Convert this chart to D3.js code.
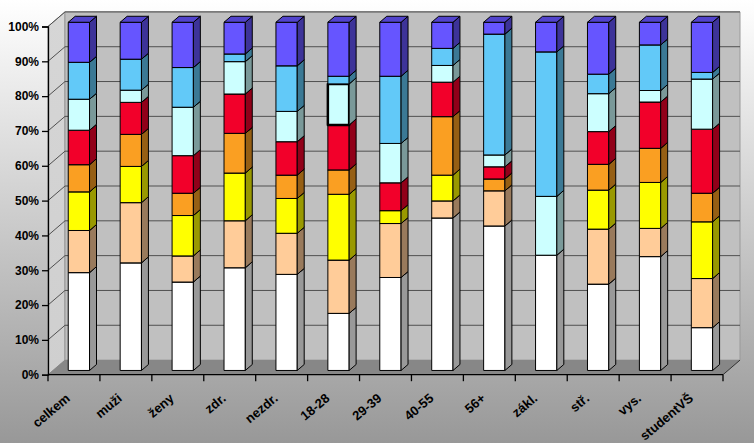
<!DOCTYPE html>
<html>
<head>
<meta charset="utf-8">
<script src="https://cdn.jsdelivr.net/npm/d3@7/dist/d3.min.js"></script>
<style>
  html, body { margin: 0; padding: 0; }
  svg { display: block; }
  text { font-family: "Liberation Sans", Arial, sans-serif; font-weight: bold; fill: #000; }
</style>
</head>
<body>
<svg id="chart" width="754" height="443"></svg>
<script>
// ---------- DATA ----------
const categories = ["celkem", "muži", "ženy", "zdr.", "nezdr.", "18-28", "29-39", "40-55", "56+", "zákl.", "stř.", "vys.", "studentVŠ"];
const seriesNames = ["s1", "s2", "s3", "s4", "s5", "s6", "s7", "s8"];
const s1 = [28.1, 30.9, 25.4, 29.5, 27.6, 16.4, 26.7, 43.8, 41.5, 33.1, 24.8, 32.7, 12.3];
const s2 = [12.1, 17.3, 7.5, 13.5, 11.8, 15.3, 15.5, 4.9, 10.1, 0, 15.8, 8.1, 14.1];
const s3 = [11.1, 10.4, 11.6, 13.7, 10.0, 18.9, 3.7, 7.4, 0, 0, 11.2, 13.2, 16.3];
const s4 = [7.8, 9.2, 6.4, 11.4, 6.7, 7.0, 0, 16.8, 3.4, 0, 7.4, 9.8, 8.2];
const s5 = [9.9, 9.2, 10.8, 11.3, 9.6, 12.9, 8.0, 9.9, 3.5, 0, 9.4, 13.3, 18.4];
const s6 = [8.9, 3.5, 13.9, 9.3, 8.7, 11.8, 11.3, 4.8, 3.4, 16.9, 10.9, 3.3, 14.4];
const s7 = [10.6, 8.9, 11.4, 2.2, 13.1, 2.2, 19.3, 4.9, 34.7, 41.5, 5.6, 13.1, 1.9];
const s8 = [11.5, 10.6, 13.0, 9.1, 12.5, 15.5, 15.5, 7.5, 3.4, 8.5, 14.9, 6.5, 14.4];
const yTicks = [0, 0.1, 0.2, 0.3, 0.4, 0.5, 0.6, 0.7, 0.8, 0.9, 1.0];
const colors = ["#FFFFFF", "#FFCC99", "#FFFF00", "#FA9F22", "#F2002A", "#CCFFFF", "#62C9F8", "#6655FF"];

// ---------- BUILD ----------
const seriesValues = [s1, s2, s3, s4, s5, s6, s7, s8];
const table = categories.map((c, i) => {
  const row = { cat: c };
  seriesNames.forEach((s, k) => row[s] = seriesValues[k][i]);
  return row;
});
const stacked = d3.stack().keys(seriesNames).offset(d3.stackOffsetExpand)(table);

const svg = d3.select("#chart");
const W = 754, H = 443;

// layout
const x0 = 48, x1 = 723, yBottom = 374.7, yTop = 26.5;
const D = { dx: 17, dy: -14.6 };   // depth vector of the 3D box
const t0 = 0.29, t1 = 0.70;        // bar depth range
const x = d3.scaleBand().domain(categories).range([x0, x1]).paddingInner(0).paddingOuter(0);
const y = d3.scaleLinear().domain([0, 1]).range([yBottom, yTop]);
const barW = x.bandwidth() * 0.41;

// background gradient
const defs = svg.append("defs");
const bg = defs.append("linearGradient").attr("id", "bg").attr("x1", 0).attr("y1", 0).attr("x2", 0).attr("y2", 1);
bg.append("stop").attr("offset", "0%").attr("stop-color", "#FFFFFF");
bg.append("stop").attr("offset", "100%").attr("stop-color", "#989898");
const lw = defs.append("linearGradient").attr("id", "lw").attr("x1", 0).attr("y1", 0).attr("x2", 0).attr("y2", 1);
lw.append("stop").attr("offset", "0%").attr("stop-color", "#D6D6D6");
lw.append("stop").attr("offset", "100%").attr("stop-color", "#CFCFCF");
svg.append("rect").attr("width", W).attr("height", H).attr("fill", "url(#bg)");

const pts = p => p.map(q => q.join(",")).join(" ");

// left wall
svg.append("polygon")
  .attr("points", pts([[x0, y(1)], [x0 + D.dx, y(1) + D.dy], [x0 + D.dx, y(0) + D.dy], [x0, y(0)]]))
  .attr("fill", "url(#lw)").attr("stroke", "#8a8a8a").attr("stroke-width", 1);
// back wall
svg.append("polygon")
  .attr("points", pts([[x0 + D.dx, y(1) + D.dy], [x1 + D.dx, y(1) + D.dy], [x1 + D.dx, y(0) + D.dy], [x0 + D.dx, y(0) + D.dy]]))
  .attr("fill", "#C0C0C0").attr("stroke", "#9a9a9a").attr("stroke-width", 1);
// floor
svg.append("polygon")
  .attr("points", pts([[x0, y(0)], [x1, y(0)], [x1 + D.dx, y(0) + D.dy], [x0 + D.dx, y(0) + D.dy]]))
  .attr("fill", "#878787").attr("stroke", "none");
svg.append("line")
  .attr("x1", x1).attr("y1", y(0)).attr("x2", x1 + D.dx).attr("y2", y(0) + D.dy)
  .attr("stroke", "#333").attr("stroke-width", 1);

// gridlines
const grid = svg.append("g");
yTicks.filter(v => v > 0).forEach(v => {
  grid.append("line")
    .attr("x1", x0 + D.dx).attr("x2", x1 + D.dx)
    .attr("y1", y(v) + D.dy).attr("y2", y(v) + D.dy)
    .attr("stroke", "#505050").attr("stroke-width", 1);
  grid.append("line")
    .attr("x1", x0).attr("y1", y(v))
    .attr("x2", x0 + D.dx).attr("y2", y(v) + D.dy)
    .attr("stroke", "#505050").attr("stroke-width", 1);
});

// y axis
const yAxis = d3.axisLeft(y).tickValues(yTicks).tickFormat(d3.format(".0%")).tickSize(6).tickPadding(3);
const yg = svg.append("g").attr("transform", `translate(${x0},0)`).call(yAxis);
yg.select(".domain").attr("stroke", "#000").attr("stroke-width", 1.3);
yg.selectAll(".tick line").attr("stroke", "#000").attr("stroke-width", 1.3);
yg.selectAll(".tick text").attr("font-size", 12).attr("font-family", "Liberation Sans, Arial, sans-serif").attr("font-weight", "bold").attr("fill", "#000");

// x axis line & ticks at band boundaries
svg.append("line").attr("x1", x0).attr("x2", x1).attr("y1", y(0)).attr("y2", y(0))
  .attr("stroke", "#000").attr("stroke-width", 1.3);
const bounds = categories.map(c => x(c)).concat([x1]);
svg.append("g").selectAll("line").data(bounds).join("line")
  .attr("x1", d => d).attr("x2", d => d)
  .attr("y1", y(0)).attr("y2", y(0) + 6.5)
  .attr("stroke", "#000").attr("stroke-width", 1.3);

// bars
function shade(c, k) {
  const r = d3.rgb(c);
  return d3.rgb(r.r * k, r.g * k, r.b * k).formatHex();
}
const barsG = svg.append("g");
categories.forEach((c, i) => {
  const fx = x(c) + x.bandwidth() / 2 - barW / 2 + t0 * D.dx; // front-left x
  const fdy = t0 * D.dy;
  const ddx = (t1 - t0) * D.dx, ddy = (t1 - t0) * D.dy;
  stacked.forEach((layer, k) => {
    const [a, b] = layer[i];
    if (b - a <= 0) return;
    const yb = y(a) + fdy, yt = y(b) + fdy;
    const g = barsG.append("g");
    // front
    g.append("polygon")
      .attr("points", pts([[fx, yb], [fx + barW, yb], [fx + barW, yt], [fx, yt]]))
      .attr("fill", colors[k]).attr("stroke", "#000").attr("stroke-width", 1)
      .attr("stroke-linejoin", "round");
    // side
    g.append("polygon")
      .attr("points", pts([[fx + barW, yb], [fx + barW + ddx, yb + ddy], [fx + barW + ddx, yt + ddy], [fx + barW, yt]]))
      .attr("fill", shade(colors[k], 0.6)).attr("stroke", "#000").attr("stroke-width", 1)
      .attr("stroke-linejoin", "round");
    // top
    g.append("polygon")
      .attr("points", pts([[fx, yt], [fx + barW, yt], [fx + barW + ddx, yt + ddy], [fx + ddx, yt + ddy]]))
      .attr("fill", shade(colors[k], 0.8)).attr("stroke", "#000").attr("stroke-width", 1)
      .attr("stroke-linejoin", "round");
    if (c === "18-28" && k === 5) {
      g.select("polygon").attr("stroke-width", 2.5);
    }
  });
});

// x labels
svg.append("g").selectAll("text").data(categories).join("text")
  .attr("transform", d => `translate(${x(d) + x.bandwidth() / 2 - 3},${y(0) + 25}) rotate(-40)`)
  .attr("text-anchor", "end")
  .attr("font-size", 13)
  .text(d => d);
</script>
</body>
</html>
